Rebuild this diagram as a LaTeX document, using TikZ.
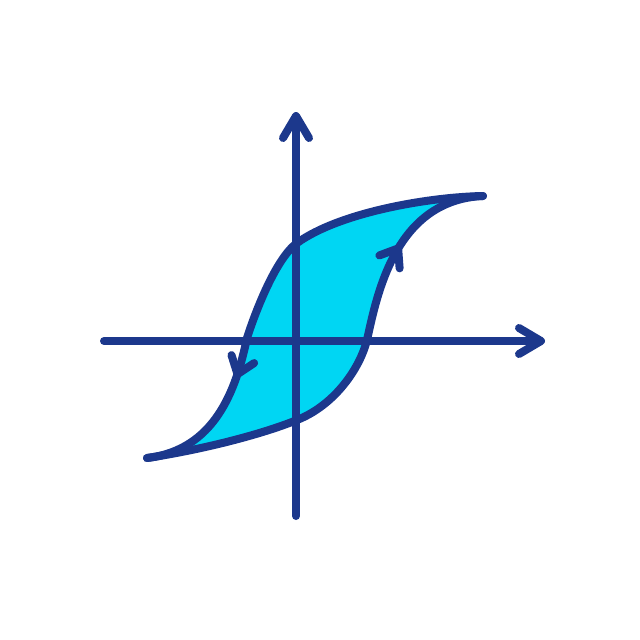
\documentclass[tikz,border=0pt]{standalone}
\usetikzlibrary{arrows.meta,decorations.markings}
\definecolor{navy}{RGB}{28,56,140}
\definecolor{cyanfill}{RGB}{0,214,243}
\begin{document}
\begin{tikzpicture}[x=1pt,y=-1pt,
  curve/.style={draw=navy,line width=8pt,line cap=round,line join=round},
  axis/.style={curve,-{Straight Barb[length=22pt,width=26pt,round]}},
  flowmark/.style={postaction={decorate},decoration={markings,mark=at position #1 with {\arrow{Straight Barb[length=16pt,width=24pt,round]}}}}
]
\useasboundingbox (0,0) rectangle (640,640);
\fill[white] (0,0) rectangle (640,640);
\coordinate (R) at (483,196);
\coordinate (L) at (147,458);
\coordinate (T1) at (297,243);
\coordinate (T2) at (247,338);
\coordinate (B1) at (297,420);
\coordinate (B2) at (367,340);
\coordinate (yb) at (296,516);
\coordinate (yt) at (296,112);
\coordinate (xl) at (104,341);
\coordinate (xr) at (545,341);
% loop fill
\fill[cyanfill] (R) .. controls (430,197) and (340,212) .. (T1)
  .. controls (275,259) and (254,316) .. (T2)
  .. controls (236,390) and (215,450) .. (L)
  .. controls (200,450) and (260,435) .. (B1)
  .. controls (335,405) and (360,368) .. (B2)
  .. controls (377,295) and (395,200) .. (R) -- cycle;
% axes
\draw[axis] (yb) -- (yt);
\draw[axis] (xl) -- (xr);
% descending branch
\draw[curve,flowmark=0.73] (R) .. controls (430,197) and (340,212) .. (T1)
  .. controls (275,259) and (254,316) .. (T2)
  .. controls (236,390) and (215,450) .. (L);
% ascending branch
\draw[curve,flowmark=0.785] (L) .. controls (200,450) and (260,435) .. (B1)
  .. controls (335,405) and (360,368) .. (B2)
  .. controls (377,295) and (395,200) .. (R);
\end{tikzpicture}
\end{document}
